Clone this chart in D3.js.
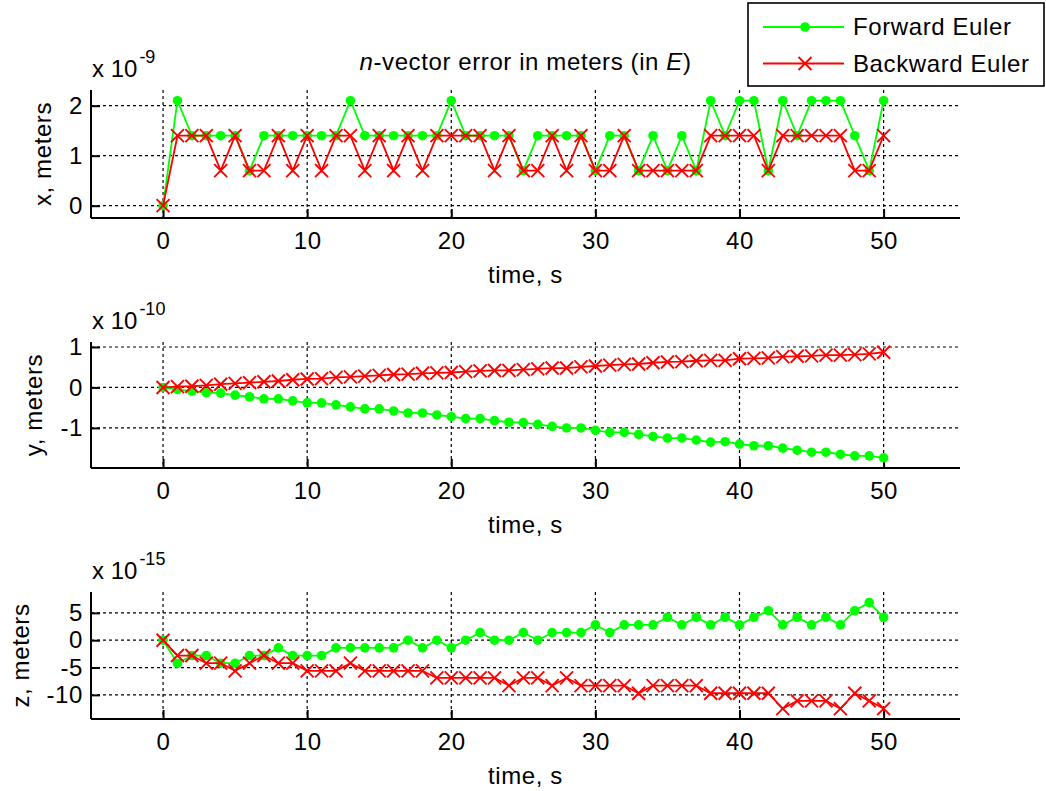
<!doctype html>
<html lang="en">
<head>
  <meta charset="utf-8">
  <title>n-vector error</title>
  <script src="https://d3js.org/d3.v7.min.js"></script>
  <style>
    body { margin: 0px; background: #fff; }
    text { font-family: Arial, "Liberation Sans", sans-serif; fill: #000; letter-spacing: 0.6px; }
  </style>
</head>
<body>
    <div id="container"></div>

    <script>
        // time steps, s
        var timeS = [0,1,2,3,4,5,6,7,8,9,10,11,12,13,14,15,16,17,18,19,20,
                     21,22,23,24,25,26,27,28,29,30,31,32,33,34,35,36,37,38,39,40,
                     41,42,43,44,45,46,47,48,49,50];

        // x error, units of 1e-9 m
        var xForward = [0,2.1,1.4,1.4,1.4,1.4,0.7,1.4,1.4,1.4,1.4,1.4,1.4,2.1,1.4,1.4,1.4,1.4,1.4,1.4,2.1,
                        1.4,1.4,1.4,1.4,0.7,1.4,1.4,1.4,1.4,0.7,1.4,1.4,0.7,1.4,0.7,1.4,0.7,2.1,1.4,2.1,
                        2.1,0.7,2.1,1.4,2.1,2.1,2.1,1.4,0.7,2.1];
        var xBackward = [0,1.4,1.4,1.4,0.7,1.4,0.7,0.7,1.4,0.7,1.4,0.7,1.4,1.4,0.7,1.4,0.7,1.4,0.7,1.4,1.4,
                         1.4,1.4,0.7,1.4,0.7,0.7,1.4,0.7,1.4,0.7,0.7,1.4,0.7,0.7,0.7,0.7,0.7,1.4,1.4,1.4,
                         1.4,0.7,1.4,1.4,1.4,1.4,1.4,0.7,0.7,1.4];

        // y error, units of 1e-10 m
        var yForward = [0,-0.05,-0.09,-0.13,-0.14,-0.19,-0.23,-0.28,-0.28,-0.33,-0.38,-0.38,-0.43,-0.48,-0.53,-0.53,-0.58,-0.63,-0.63,-0.68,-0.72,
                        -0.77,-0.77,-0.82,-0.86,-0.87,-0.91,-0.96,-1.0,-1.0,-1.06,-1.11,-1.11,-1.16,-1.21,-1.25,-1.25,-1.3,-1.35,-1.34,-1.4,
                        -1.44,-1.44,-1.5,-1.55,-1.6,-1.6,-1.65,-1.69,-1.69,-1.74];
        var yBackward = [0,0.02,0.03,0.05,0.08,0.1,0.12,0.14,0.16,0.19,0.21,0.22,0.25,0.26,0.28,0.3,0.32,0.33,0.35,0.36,0.37,
                         0.39,0.41,0.42,0.42,0.44,0.46,0.48,0.48,0.51,0.53,0.55,0.57,0.58,0.61,0.63,0.64,0.66,0.67,0.67,0.71,
                         0.72,0.73,0.76,0.77,0.78,0.8,0.8,0.81,0.83,0.87];

        // z error, units of 1e-15 m
        var zForward = [0,-4.2,-2.8,-2.8,-4.2,-4.2,-2.8,-2.8,-1.4,-2.8,-2.8,-2.8,-1.4,-1.4,-1.4,-1.4,-1.4,0,-1.4,0,-1.4,
                        0,1.4,0,0,1.4,0,1.4,1.4,1.4,2.8,1.4,2.8,2.8,2.8,4.2,2.8,4.2,2.8,4.2,2.8,
                        4.2,5.4,2.8,4.2,2.8,4.2,2.8,5.4,6.9,4.2];
        var zBackward = [0,-2.8,-2.8,-4.2,-4.2,-5.6,-4.2,-2.8,-4.2,-4.2,-5.6,-5.6,-5.6,-4.2,-5.6,-5.6,-5.6,-5.6,-5.6,-6.9,-6.9,
                         -6.9,-6.9,-6.9,-8.3,-6.9,-6.9,-8.3,-6.9,-8.3,-8.3,-8.3,-8.3,-9.7,-8.3,-8.3,-8.3,-8.3,-9.7,-9.7,-9.7,
                         -9.7,-9.7,-12.5,-11.1,-11.1,-11.1,-12.5,-9.7,-11.1,-12.5];

        var xTicks = [0,10,20,30,40,50];
        var seriesNames = ["Forward Euler", "Backward Euler"];
        var seriesColors = ["#00ff00", "#ff0000"];

        var panels = [
            {label: "x, meters", exp: "-9",  fwd: xForward, bwd: xBackward, ticks: [0,1,2],        dom: [-0.246, 2.314], top: 90,  bottom: 218},
            {label: "y, meters", exp: "-10", fwd: yForward, bwd: yBackward, ticks: [-1,0,1],       dom: [-1.99, 1.123],  top: 342, bottom: 468},
            {label: "z, meters", exp: "-15", fwd: zForward, bwd: zBackward, ticks: [-10,-5,0,5],   dom: [-14.41, 8.82],  top: 592, bottom: 719}
        ];

        var W = 1046, H = 791, left = 91, right = 960;
        var fs = 24;
        var fmt = d => String(d).replace("\u2212", "-");
        var xMark = "M-6.5,-6.5L6.5,6.5M-6.5,6.5L6.5,-6.5";

        var svg = d3.select('div#container').append('svg')
            .attr('width', W)
            .attr('height', H);

        var x = d3.scaleLinear().domain([-5, 55.3]).range([left, right]);

        function drawPanel(p) {
            var y = d3.scaleLinear().domain(p.dom).range([p.bottom, p.top]);
            var g = svg.append("g");

            // grid
            g.selectAll("line.vg").data(xTicks).enter().append("line")
                .attr("x1", d => x(d)).attr("x2", d => x(d))
                .attr("y1", p.top).attr("y2", p.bottom)
                .attr("stroke", "#000").attr("stroke-width", 1.2)
                .attr("stroke-dasharray", "3,3");
            g.selectAll("line.hg").data(p.ticks).enter().append("line")
                .attr("x1", left).attr("x2", right)
                .attr("y1", d => y(d)).attr("y2", d => y(d))
                .attr("stroke", "#000").attr("stroke-width", 1.2)
                .attr("stroke-dasharray", "3,3");

            // axes (left + bottom, ticks inside)
            var ax = g.append("g").attr("transform", "translate(0," + p.bottom + ")")
                .call(d3.axisBottom(x).tickValues(xTicks).tickFormat(fmt).tickSizeInner(-9).tickSizeOuter(0).tickPadding(14));
            var ay = g.append("g").attr("transform", "translate(" + left + ",0)")
                .call(d3.axisLeft(y).tickValues(p.ticks).tickFormat(fmt).tickSizeInner(-9).tickSizeOuter(0).tickPadding(8));
            [ax, ay].forEach(function(a) {
                a.select(".domain").attr("stroke", "#000").attr("stroke-width", 2);
                a.selectAll(".tick line").attr("stroke", "#000").attr("stroke-width", 2);
                a.selectAll(".tick text").style("font-size", fs + "px")
                    .style("font-family", "Arial, 'Liberation Sans', sans-serif");
            });
            ax.select(".domain").attr("d", "M" + left + ",0H" + right);
            ay.select(".domain").attr("d", "M0," + p.top + "V" + p.bottom);
            ax.selectAll(".tick text").attr("dy", "0.71em");

            // widest y tick label decides where the y label sits
            var tickW = d3.max(ay.selectAll(".tick text").nodes(), n => n.getBBox().width);

            // series
            var line = d3.line().x((d, i) => x(timeS[i])).y(d => y(d));
            g.append("path").datum(p.fwd).attr("d", line)
                .attr("fill", "none").attr("stroke", seriesColors[0]).attr("stroke-width", 1.8);
            g.selectAll("circle").data(p.fwd).enter().append("circle")
                .attr("cx", (d, i) => x(timeS[i])).attr("cy", d => y(d))
                .attr("r", 4.8).attr("fill", seriesColors[0]);

            g.append("path").datum(p.bwd).attr("d", line)
                .attr("fill", "none").attr("stroke", seriesColors[1]).attr("stroke-width", 1.8);
            g.selectAll("path.xm").data(p.bwd).enter().append("path")
                .attr("class", "xm")
                .attr("transform", (d, i) => "translate(" + x(timeS[i]) + "," + y(d) + ")")
                .attr("d", xMark)
                .attr("stroke", seriesColors[1]).attr("stroke-width", 1.9).attr("fill", "none");

            // exponent label
            var e = g.append("text").attr("x", left + 1).attr("y", p.top - 13)
                .style("font-size", fs + "px").style("letter-spacing", "0px");
            e.append("tspan").text("x 10");
            e.append("tspan").attr("dy", -14).attr("dx", 2).style("font-size", "18px").text(p.exp);

            // axis labels
            g.append("text").attr("x", (left + right) / 2).attr("y", p.bottom + 65)
                .attr("text-anchor", "middle").style("font-size", fs + "px").text("time, s");
            var lx = left - 8 - tickW - 18;
            g.append("text").attr("transform", "translate(" + lx + "," + (p.top + p.bottom) / 2 + ") rotate(-90)")
                .attr("text-anchor", "middle").style("font-size", fs + "px").text(p.label);
        }

        panels.forEach(drawPanel);

        // title
        var t = svg.append("text").attr("x", (left + right) / 2).attr("y", 70)
            .attr("text-anchor", "middle").style("font-size", fs + "px");
        t.append("tspan").style("font-style", "italic").text("n");
        t.append("tspan").text("-vector error in meters (in ");
        t.append("tspan").style("font-style", "italic").text("E");
        t.append("tspan").text(")");

        // legend
        var lg = svg.append("g");
        lg.append("rect").attr("x", 748).attr("y", 3).attr("width", 296).attr("height", 83)
            .attr("fill", "#fff").attr("stroke", "#000").attr("stroke-width", 1.6);
        seriesNames.forEach(function(name, i) {
            var ry = 27 + i * 36.5;
            lg.append("line").attr("x1", 763).attr("x2", 844).attr("y1", ry).attr("y2", ry)
                .attr("stroke", seriesColors[i]).attr("stroke-width", 1.8);
            if (i === 0) {
                lg.append("circle").attr("cx", 805).attr("cy", ry).attr("r", 4.8).attr("fill", seriesColors[i]);
            } else {
                lg.append("path").attr("transform", "translate(805," + ry + ")")
                    .attr("d", xMark)
                    .attr("stroke", seriesColors[i]).attr("stroke-width", 1.9);
            }
            lg.append("text").attr("x", 853).attr("y", ry + 8).style("font-size", fs + "px").text(name);
        });
    </script>
</body>
</html>
